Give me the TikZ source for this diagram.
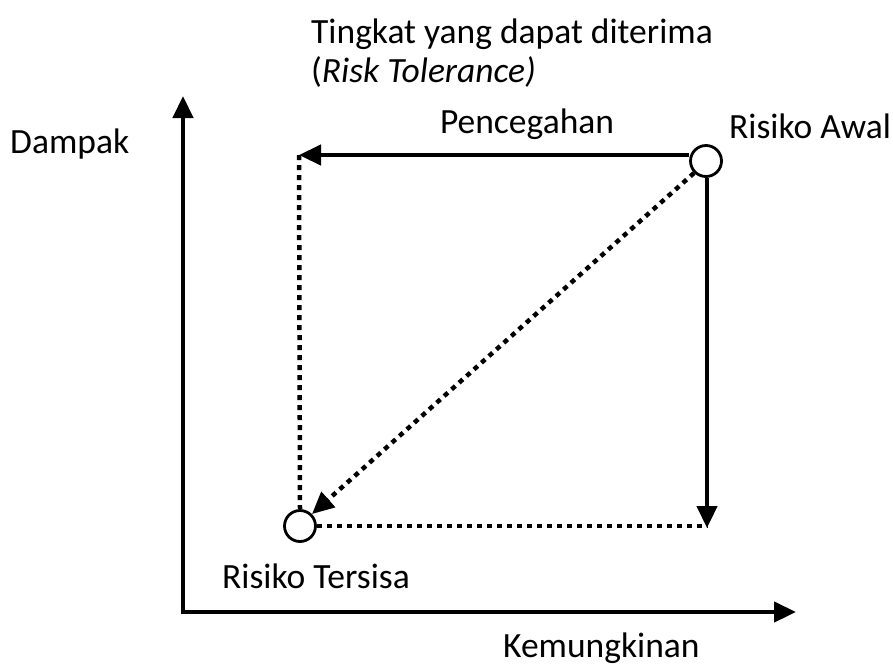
\documentclass[tikz,border=0pt]{standalone}
\usepackage{fontspec}
\setmainfont{Carlito}
\usetikzlibrary{arrows.meta}
\begin{document}
\begin{tikzpicture}[x=1pt,y=-1pt,
  lbl/.style={font=\fontsize{35.5}{42}\selectfont, inner sep=0pt},
  axis/.style={line width=4.5pt, -{Triangle[length=22pt,width=20pt]}},
  solidarrow/.style={line width=4.5pt, -{Triangle[length=22pt,width=20pt]}},
  dotline/.style={line width=4.5pt, dash pattern=on 5pt off 5pt},
  riskpt/.style={circle, draw, line width=2.8pt, minimum size=31pt, inner sep=0pt, fill=white}]
\useasboundingbox (0,0) rectangle (893,665);
% axes
\coordinate (O) at (183,612);
\coordinate (ytop) at (183,96);
\coordinate (xend) at (796,612);
\draw[axis] (O) -- (ytop);
\draw[axis] ([xshift=-2.25pt]O) -- (xend);
% points
\coordinate (tl) at (299,155);
\coordinate (br) at (707,528);
\node[riskpt] (awal) at (706,161) {};
\node[riskpt] (sisa) at (300,526) {};
% dotted lines
\draw[dotline] (tl) -- (sisa.north);
\draw[dotline] (sisa.east) -- (sisa.east -| br);
\draw[dotline, -{Triangle[length=22pt,width=20pt]}] (awal.south west) -- (sisa.north east);
% solid arrows
\draw[solidarrow] (awal.west |- tl) -- (tl);
\draw[solidarrow] (awal.south -| br) -- (br);
% labels
\node[lbl, anchor=base west] (tol1) at (311,43) {Tingkat yang dapat diterima};
\node[lbl, anchor=base west] (tol2) at (311,82) {(\textit{Risk Tolerance)}};
\node[lbl, anchor=base west] (dampak) at (10,153) {Dampak};
\node[lbl, anchor=base] (cegah) at (527,133) {Pencegahan};
\node[lbl, anchor=base west] (awallbl) at (729,138) {Risiko Awal};
\node[lbl, anchor=base west] (sisalbl) at (222,588) {Risiko Tersisa};
\node[lbl, anchor=base west] (kemung) at (503,657) {Kemungkinan};
\end{tikzpicture}
\end{document}
